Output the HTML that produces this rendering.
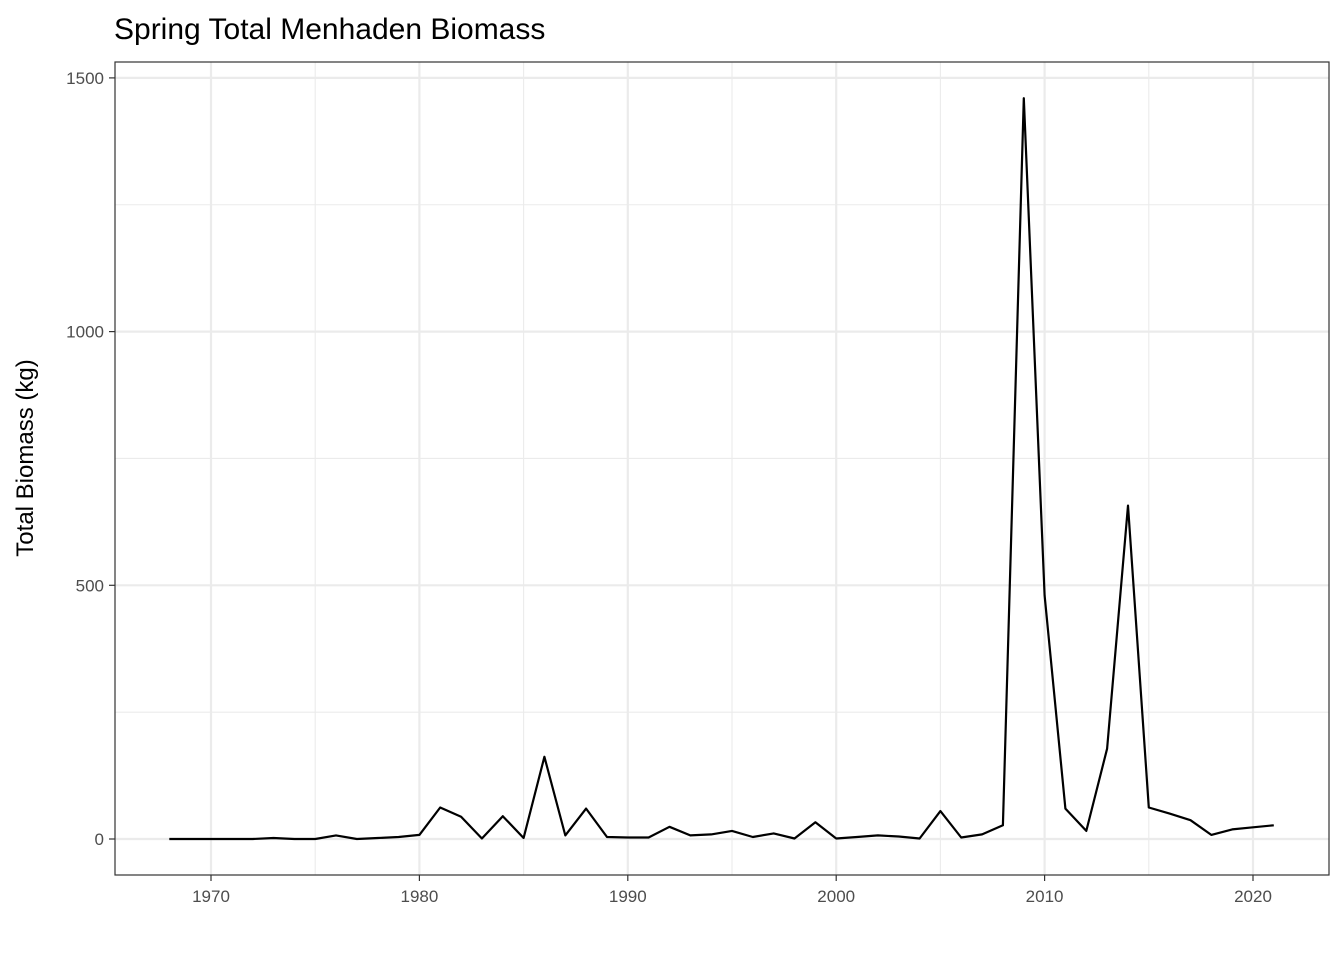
<!DOCTYPE html>
<html><head><meta charset="utf-8"><style>
body{margin:0;background:#fff;font-family:"Liberation Sans",Arial,sans-serif}
</style></head><body>
<svg id="chart" width="1344" height="960" xmlns="http://www.w3.org/2000/svg">
<text x="114" y="39" font-size="30" fill="#000">Spring Total Menhaden Biomass</text>
<text transform="translate(33,458) rotate(-90)" text-anchor="middle" font-size="24" fill="#000">Total Biomass (kg)</text>
<g id="grid"></g><g id="ticks"></g>
<path id="line" fill="none" stroke="#000" stroke-width="2.2" stroke-linejoin="round"/>
<rect x="115" y="62" width="1214" height="813" fill="none" stroke="#333" stroke-width="1.2"/>
</svg>
<script>
const years=[];for(let y=1968;y<=2021;y++)years.push(y);
const biomass=[0,0,0,0,0,2,0,0,7,0,2,4,8,62,44,1,45,2,162,7,60,4,3,3,24,7,9,16,4,11,1,33,1,4,7,5,1,55,3,9,27,1460,480,60,16,178,657,62,50,37,8,19,23,27];
const xTicks=[1970,1980,1990,2000,2010,2020];
const yTicks=[0,500,1000,1500];
const sx=v=>211+(v-1970)*20.84;
const sy=v=>839-v*0.5074;
const ns="http://www.w3.org/2000/svg";
const grid=document.getElementById('grid'),ticks=document.getElementById('ticks');
function ln(p,x1,y1,x2,y2,c,w){const l=document.createElementNS(ns,'line');l.setAttribute('x1',x1);l.setAttribute('y1',y1);l.setAttribute('x2',x2);l.setAttribute('y2',y2);l.setAttribute('stroke',c);l.setAttribute('stroke-width',w);p.appendChild(l);return l;}
function tx(p,x,y,s,a){const t=document.createElementNS(ns,'text');t.setAttribute('x',x);t.setAttribute('y',y);t.setAttribute('text-anchor',a);t.setAttribute('font-size','17');t.setAttribute('fill','#4d4d4d');t.textContent=s;p.appendChild(t);return t;}
for(let i=0;i<xTicks.length;i++){const x=sx(xTicks[i]);
 const g=ln(grid,x,62,x,875,'#ebebeb',2.2);
 
 
 if(i<xTicks.length-1){const m=sx(xTicks[i]+5);const gm=ln(grid,m,62,m,875,'#ebebeb',1.1);
 
 }
 const t=ln(ticks,x,875,x,881,'#333',1.2);
 
 
 const l=tx(ticks,x,902,String(xTicks[i]),'middle');
 
 }
for(let i=0;i<yTicks.length;i++){const y=sy(yTicks[i]);
 const g=ln(grid,115,y,1329,y,'#ebebeb',2.2);
 
 
 if(i<yTicks.length-1){const m=sy(yTicks[i]+250);const gm=ln(grid,115,m,1329,m,'#ebebeb',1.1);
 
 }
 const t=ln(ticks,109,y,115,y,'#333',1.2);
 
 
 const l=tx(ticks,104,y+6,String(yTicks[i]),'end');
 
 }
document.getElementById('line').setAttribute('d',years.map((y,i)=>(i?'L':'M')+sx(y).toFixed(1)+','+sy(biomass[i]).toFixed(1)).join(''));
</script>
</body></html>
